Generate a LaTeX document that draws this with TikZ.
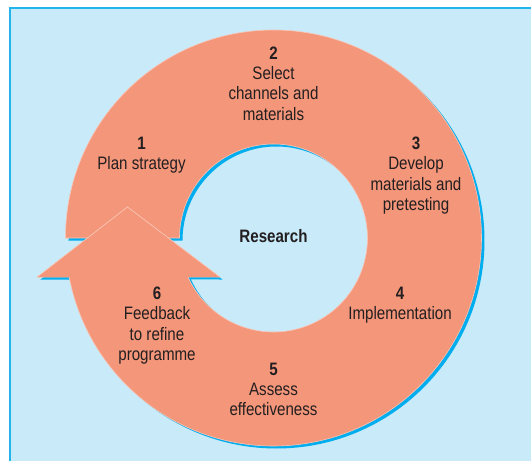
\documentclass[tikz,border=0pt]{standalone}
\usepackage{fontspec}
\usepackage{tikz}
\usetikzlibrary{shadows}
\newfontfamily\stepfont{Liberation Sans}[FakeStretch=0.84]
\definecolor{panelblue}{HTML}{C8EAF9}
\definecolor{framecyan}{HTML}{22B4EA}
\definecolor{ringsalmon}{HTML}{F4967A}
\definecolor{ringshadow}{HTML}{00AEEF}
\definecolor{steptext}{HTML}{231F20}

\begin{document}
\begin{tikzpicture}[x=1pt, y=1pt, stage/.style={align=center, text=steptext, font=\stepfont\fontsize{18}{20.3}\selectfont}, ringshape/.style={fill=ringsalmon, draw=ringsalmon!55!white, line width=0.6pt, line join=miter, drop shadow={shadow xshift=3pt, shadow yshift=-2.5pt, fill=ringshadow, opacity=1}}, headedge/.style={draw=ringsalmon!55!white, line width=0.6pt, line join=miter}]

\useasboundingbox (-273.5,-223) rectangle (257.5,238);

% Panel

\fill[panelblue] (-263.5,-223) rectangle (257.5,230);
\draw[framecyan, line width=1.2pt] (-263.5,-223) |- (257.5,230);

% Cycle

\path[ringshape] (180:208) arc[start angle=180, end angle=-169.19, radius=208] -- (-236,-39) -- (-146,31) -- (-54,-39) -- (-155.49:94) arc[start angle=-155.49, end angle=180, radius=94] -- cycle;

% Arrow head over the start of the ring

\coordinate (headleft) at (-236,-39);
\coordinate (headtip) at (-146,31);
\coordinate (headright) at (-54,-39);
\fill[ringsalmon] (headleft) -- (headtip) -- (headright) -- cycle;
\draw[headedge] ([xshift=-0.4pt]headleft) -- (headtip) -- ([xshift=0.4pt]headright);

% Stages

\node[stage] (research) at (0,2) {\textbf{Research}};

\node[stage] (stepone) at (-132,82.5) {\textbf{1}\\Plan strategy};
\node[stage] (steptwo) at (0,154.5) {\textbf{2}\\Select\\channels and\\materials};
\node[stage] (stepthree) at (142.5,62.5) {\textbf{3}\\Develop\\materials and\\pretesting};
\node[stage] (stepfour) at (126.5,-67) {\textbf{4}\\Implementation};
\node[stage] (stepfive) at (0,-151.5) {\textbf{5}\\Assess\\effectiveness};
\node[stage] (stepsix) at (-116.5,-87.5) {\textbf{6}\\Feedback\\to refine\\programme};

\end{tikzpicture}
\end{document}
